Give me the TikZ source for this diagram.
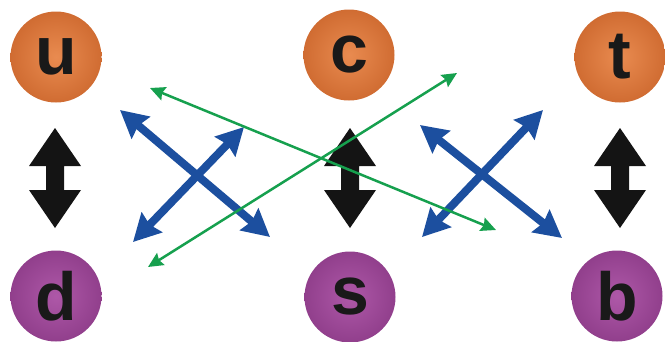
\documentclass[tikz,border=0pt]{standalone}
\usepackage{fontspec}
\setmainfont{Liberation Sans}
\usetikzlibrary{arrows.meta}
\definecolor{orA}{HTML}{E98B50}
\definecolor{orB}{HTML}{D06C32}
\definecolor{puA}{HTML}{AE58A8}
\definecolor{puB}{HTML}{913F8C}
\definecolor{blueX}{HTML}{1C4F9F}
\definecolor{greenX}{HTML}{16A04E}
\tikzset{
  ball/.style={circle, minimum size=91pt, inner sep=0pt, font=\fontsize{68}{68}\selectfont\bfseries, text=black!90},
  upball/.style={ball, inner color=orA, outer color=orB},
  downball/.style={ball, inner color=puA, outer color=puB},
  bluearrow/.style={draw=blueX, line width=8pt, {Stealth[length=27pt,width=28pt,inset=3pt]}-{Stealth[length=27pt,width=28pt,inset=3pt]}},
  greenarrow/.style={draw=greenX, line width=2.5pt, {Stealth[length=15pt,width=14pt,inset=2pt]}-{Stealth[length=15pt,width=14pt,inset=2pt]}},
  blackdbl/.style={fill=black!92, draw=none}
}
\begin{document}
\begin{tikzpicture}[x=1pt,y=-1pt]
\useasboundingbox (0,0) rectangle (665,341);
% balls
\node[upball] (u) at (56,57) {u};
\node[upball] (c) at (349,55) {c};
\node[upball] (t) at (620,57) {t};
\node[downball] (d) at (56,296) {d};
\node[downball] (s) at (350,297) {s};
\node[downball] (b) at (617,296) {b};
% black double arrows
\foreach \n/\cx/\cy in {m1/55/178, m2/350/178, m3/620/178}{
  \coordinate (\n) at (\cx,\cy);
  \path[blackdbl] (\n) ++(0,-50) -- ++(26,38) -- ++(-17,0) -- ++(0,24) -- ++(17,0)
     -- ++(-26,38) -- ++(-26,-38) -- ++(17,0) -- ++(0,-24) -- ++(-17,0) -- cycle;
}
% blue crosses
\coordinate (b1a) at (120,110);
\coordinate (b1b) at (270,237);
\coordinate (b2a) at (133,242);
\coordinate (b2b) at (244,127);
\coordinate (b3a) at (420,125);
\coordinate (b3b) at (562,238);
\coordinate (b4a) at (422,237);
\coordinate (b4b) at (543,110);
\draw[bluearrow] (b1a) -- (b1b);
\draw[bluearrow] (b2a) -- (b2b);
\draw[bluearrow] (b3a) -- (b3b);
\draw[bluearrow] (b4a) -- (b4b);
% green arrows
\coordinate (g1a) at (150,88);
\coordinate (g1b) at (496,230);
\coordinate (g2a) at (148,267);
\coordinate (g2b) at (457,73);
\draw[greenarrow] (g1a) -- (g1b);
\draw[greenarrow] (g2a) -- (g2b);
\end{tikzpicture}
\end{document}
